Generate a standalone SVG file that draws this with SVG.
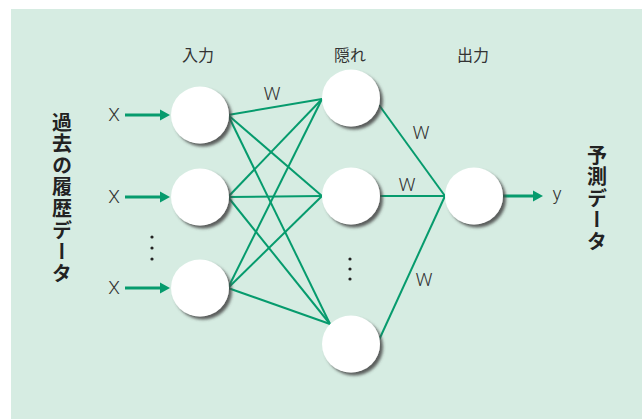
<svg xmlns="http://www.w3.org/2000/svg" width="642" height="419" viewBox="0 0 642 419">
  <style>
    .lbl { font-family: "Noto Sans CJK JP", "Liberation Sans", sans-serif; font-size: 16px; fill: #333; }
    .w { font-family: "Roboto", "Liberation Sans", sans-serif; font-weight: 300; font-size: 19px; fill: #333; }
    .vt { font-family: "Noto Sans CJK JP", sans-serif; font-size: 20px; font-weight: bold; fill: #222; writing-mode: vertical-rl; letter-spacing: 1.6px; }
    .node { fill: #ffffff; filter: url(#shadow); }
    .link { stroke: #069b6d; stroke-width: 2; fill: none; }
    .arrow { stroke: #069b6d; stroke-width: 3; fill: none; }
    .head { fill: #069b6d; }
    .dot { fill: #222; }
  </style>
  <defs>
    <filter id="shadow" x="-30%" y="-30%" width="160%" height="160%">
      <feDropShadow dx="3" dy="3" stdDeviation="1.8" flood-color="#444" flood-opacity="0.85"/>
    </filter>
  </defs>

  <!-- panel -->
  <rect x="11" y="9" width="631" height="410" fill="#d6ece2"/>

  <!-- layer headings -->
  <text class="lbl" x="198" y="61" text-anchor="middle">入力</text>
  <text class="lbl" x="350" y="61" text-anchor="middle">隠れ</text>
  <text class="lbl" x="473" y="61" text-anchor="middle">出力</text>

  <!-- side labels -->
  <text class="vt" x="62" y="112">過去の履歴データ</text>
  <text class="vt" x="597" y="145">予測データ</text>

  <!-- connectors -->
  <g id="connectors">
    <!-- input to hidden -->
    <line class="link" x1="228" y1="115" x2="322" y2="99"/>
    <line class="link" x1="228" y1="115" x2="322" y2="196"/>
    <line class="link" x1="228" y1="115" x2="330" y2="324"/>
    <line class="link" x1="228" y1="197" x2="322" y2="99"/>
    <line class="link" x1="228" y1="197" x2="322" y2="196"/>
    <line class="link" x1="228" y1="197" x2="330" y2="324"/>
    <line class="link" x1="228" y1="288" x2="322" y2="99"/>
    <line class="link" x1="228" y1="288" x2="322" y2="196"/>
    <line class="link" x1="228" y1="288" x2="330" y2="324"/>
    <!-- hidden to output -->
    <line class="link" x1="379" y1="105" x2="445" y2="196"/>
    <line class="link" x1="379" y1="196" x2="445" y2="196"/>
    <line class="link" x1="379" y1="340" x2="445" y2="196"/>
    <!-- input arrows -->
    <line class="arrow" x1="125" y1="115" x2="161" y2="115"/>
    <polygon class="head" points="160,109.5 170,115 160,120.5"/>
    <line class="arrow" x1="125" y1="197" x2="161" y2="197"/>
    <polygon class="head" points="160,191.5 170,197 160,202.5"/>
    <line class="arrow" x1="125" y1="288" x2="161" y2="288"/>
    <polygon class="head" points="160,282.5 170,288 160,293.5"/>
    <!-- output arrow -->
    <line class="arrow" x1="502" y1="196" x2="534" y2="196"/>
    <polygon class="head" points="533,190.5 543,196 533,201.5"/>
  </g>

  <!-- weight labels -->
  <text class="w" x="272" y="100" text-anchor="middle">W</text>
  <text class="w" x="421" y="139" text-anchor="middle">W</text>
  <text class="w" x="407" y="191" text-anchor="middle">W</text>
  <text class="w" x="424" y="286" text-anchor="middle">W</text>

  <!-- input / output symbols -->
  <text class="w" x="114" y="121" text-anchor="middle">X</text>
  <text class="w" x="114" y="203" text-anchor="middle">X</text>
  <text class="w" x="114" y="294" text-anchor="middle">X</text>
  <text class="w" x="557" y="200" text-anchor="middle">y</text>

  <!-- omitted-unit marks -->
  <circle class="dot" cx="152" cy="237" r="1.6"/>
  <circle class="dot" cx="152" cy="248" r="1.6"/>
  <circle class="dot" cx="152" cy="259" r="1.6"/>
  <circle class="dot" cx="350" cy="259" r="1.6"/>
  <circle class="dot" cx="350" cy="269" r="1.6"/>
  <circle class="dot" cx="350" cy="279" r="1.6"/>

  <!-- input layer -->
  <g id="in1"><ellipse class="node" cx="200" cy="115" rx="29" ry="28.5"/></g>
  <g id="in2"><ellipse class="node" cx="200" cy="197" rx="29" ry="28.5"/></g>
  <g id="in3"><ellipse class="node" cx="200" cy="288" rx="29" ry="28.5"/></g>

  <!-- hidden layer -->
  <g id="hid1"><ellipse class="node" cx="351" cy="98" rx="29" ry="28.5"/></g>
  <g id="hid2"><ellipse class="node" cx="351" cy="196" rx="29" ry="28.5"/></g>
  <g id="hid3"><ellipse class="node" cx="351" cy="344" rx="29" ry="28.5"/></g>

  <!-- output layer -->
  <g id="out1"><ellipse class="node" cx="474" cy="196" rx="29" ry="28.5"/></g>
</svg>
